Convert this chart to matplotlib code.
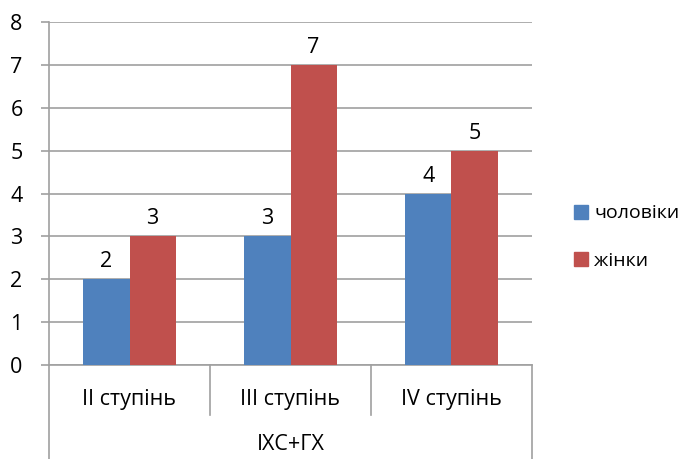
import numpy as np
import matplotlib.pyplot as plt
from matplotlib.patches import Patch

categories = ["II ступінь", "III ступінь", "IV ступінь"]
group_label = "ІХС+ГХ"
men = [2, 3, 4]
women = [3, 7, 5]
series_names = ["чоловіки", "жінки"]

blue = "#4F81BD"
red = "#C0504D"
grid_c = "#A0A0A0"

plt.rcParams["font.family"] = ["Open Sans", "DejaVu Sans"]
fs = 15.5

W, H = 691, 459
fig = plt.figure(figsize=(W / 100, H / 100), dpi=100)
ax = fig.add_axes([49 / W, (H - 365) / H, (532 - 49) / W, (365 - 22) / H])

x = np.arange(len(categories))
bw = 0.286
b1 = ax.bar(x - bw / 2, men, bw, color=blue, zorder=3)
b2 = ax.bar(x + bw / 2, women, bw, color=red, zorder=3)

for bars, vals in ((b1, men), (b2, women)):
    for rect, v in zip(bars, vals):
        ax.annotate(str(v), (rect.get_x() + rect.get_width() / 2, v),
                    xytext=(0, 5), textcoords="offset points",
                    ha="center", va="bottom", fontsize=fs)

ax.set_xlim(-0.5, 2.5)
ax.set_ylim(0, 8)
ax.set_yticks(range(0, 9))
ax.yaxis.grid(True, color=grid_c, linewidth=1.2, zorder=0)
ax.tick_params(axis="y", length=6, width=1.2, color=grid_c, labelsize=fs, pad=13)
ax.tick_params(axis="x", length=0, labelbottom=False)
for s in ("top", "right"):
    ax.spines[s].set_visible(False)
for s in ("left", "bottom"):
    ax.spines[s].set_color(grid_c)
    ax.spines[s].set_linewidth(1.2)

# two-level category axis under the plot
tr = ax.get_xaxis_transform()
inner = -50 / 343
outer = -94 / 343
for b in (0.5, 1.5):
    ax.plot([b, b], [0, inner], transform=tr, color=grid_c, lw=1.2, clip_on=False)
for b in (-0.5, 2.5):
    ax.plot([b, b], [0, outer], transform=tr, color=grid_c, lw=1.2, clip_on=False)
for xi, lab in zip(x, categories):
    ax.text(xi, -35 / 343, lab, transform=tr, ha="center", va="center", fontsize=fs)
ax.text(1, -80 / 343, group_label, transform=tr, ha="center", va="center", fontsize=fs)

handles = [Patch(color=blue), Patch(color=red)]
fig.legend(handles, series_names, loc="center left",
           bbox_to_anchor=(560 / W, 1 - 237 / H), frameon=False, fontsize=14,
           borderpad=0.2, handlelength=0.75, handleheight=0.75, handletextpad=0.3,
           labelspacing=1.5)

fig.savefig("out.png", dpi=100)
